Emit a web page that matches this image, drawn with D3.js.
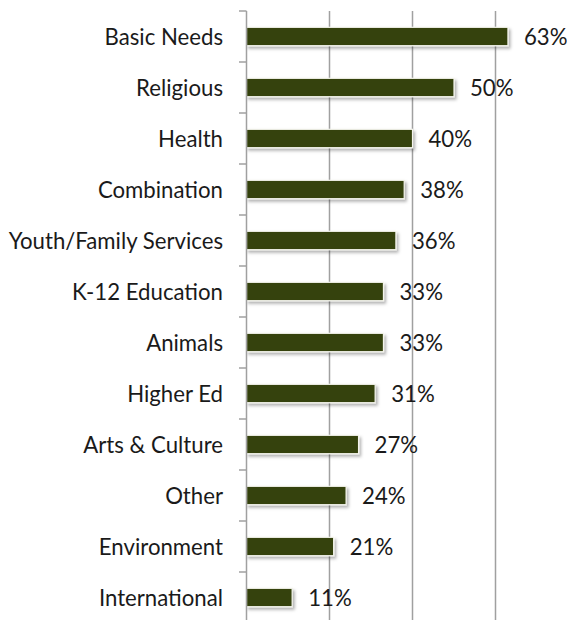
<!DOCTYPE html>
<html><head><meta charset="utf-8">
<script src="https://cdn.jsdelivr.net/npm/d3@7"></script>
<style>body{margin:0;background:#fff;} svg{display:block;}</style>
</head><body>
<script>
const categories = ["Basic Needs","Religious","Health","Combination","Youth/Family Services","K-12 Education","Animals","Higher Ed","Arts & Culture","Other","Environment","International"];
const values = [63,50,40,38,36,33,33,31,27,24,21,11];
const gridTicks = [20,40,60];

const W = 567, H = 620;
const svg = d3.select("body").append("svg").attr("width",W).attr("height",H);
const x = d3.scaleLinear().domain([0,70]).range([246.5, 537]);
const y = d3.scaleBand().domain(categories).range([11, 11+51*12]).paddingInner(0.64).paddingOuter(0.32);
const yb = d3.scaleBand().domain(categories).range([11, 11+51*12]);

const defs = svg.append("defs");
const f = defs.append("filter").attr("id","sh").attr("x","-10%").attr("y","-30%").attr("width","130%").attr("height","190%");
f.append("feDropShadow").attr("dx",2).attr("dy",2.5).attr("stdDeviation",1.5).attr("flood-color","#000").attr("flood-opacity",0.3);

// gridlines
svg.append("g").selectAll("line").data(gridTicks).join("line")
  .attr("x1",d=>x(d)).attr("x2",d=>x(d)).attr("y1",11).attr("y2",H)
  .attr("stroke","#a0a0a0").attr("stroke-width",1.5);

// bars
svg.append("g").selectAll("rect").data(values).join("rect")
  .attr("x",x(0)).attr("y",(d,i)=>y(categories[i]))
  .attr("width",d=>x(d)-x(0)).attr("height",y.bandwidth())
  .attr("fill","#34420f").attr("stroke","#f4f4ec").attr("stroke-width",1.2)
  .attr("filter","url(#sh)");

// axis
const ax = svg.append("g");
ax.append("line").attr("x1",x(0)).attr("x2",x(0)).attr("y1",11).attr("y2",H).attr("stroke","#a0a0a0").attr("stroke-width",1.5);
ax.selectAll("line.t").data(categories.concat(["_end"])).join("line").attr("class","t")
  .attr("x1",239).attr("x2",x(0))
  .attr("y1",(d,i)=>11+51*i).attr("y2",(d,i)=>11+51*i)
  .attr("stroke","#a0a0a0").attr("stroke-width",1.5);

// category labels
svg.append("g").selectAll("text").data(categories).join("text")
  .attr("x",223).attr("y",d=>yb(d)+yb.bandwidth()/2)
  .attr("text-anchor","end").attr("dominant-baseline","central")
  .attr("font-family","Lato, 'Open Sans', sans-serif").attr("font-size",22.2)
  .attr("fill","#1a1a1a").text(d=>d);

// value labels
svg.append("g").selectAll("text").data(values).join("text")
  .attr("x",d=>x(d)+16).attr("y",(d,i)=>yb(categories[i])+yb.bandwidth()/2)
  .attr("dominant-baseline","central")
  .attr("font-family","Lato, 'Open Sans', sans-serif").attr("font-size",22.2)
  .attr("fill","#1a1a1a").text(d=>d+"%");
</script>
</body></html>
